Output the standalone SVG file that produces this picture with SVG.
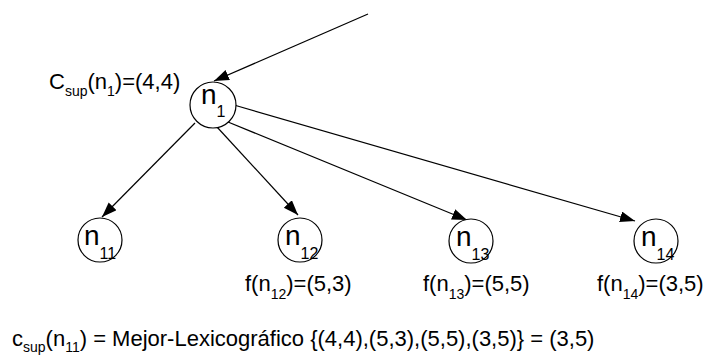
<svg xmlns="http://www.w3.org/2000/svg" width="707" height="356" viewBox="0 0 707 356">
  <defs>
    <marker id="arrow" markerUnits="userSpaceOnUse" markerWidth="16" markerHeight="12" refX="15" refY="5.5" orient="auto">
      <path d="M0,0 L15,5.5 L0,11 z" fill="#000"/>
    </marker>
    <style>
      text { font-family: "Liberation Sans", Arial, sans-serif; fill: #000; }
      .lbl { font-size: 22px; }
      .sub { font-size: 14px; }
      .nn { font-size: 28px; }
      .ns { font-size: 16px; }
      .node circle { fill: #fff; stroke: #000; stroke-width: 1.2; }
      .edge { stroke: #000; stroke-width: 1.2; fill: none; marker-end: url(#arrow); }
    </style>
  </defs>
  <rect width="707" height="356" fill="#fff"/>

  <!-- connectors -->
  <g id="edges">
    <line class="edge" x1="368" y1="14" x2="214" y2="81"/>
    <line class="edge" x1="195" y1="123" x2="102" y2="217"/>
    <line class="edge" x1="217" y1="127" x2="298" y2="215"/>
    <line class="edge" x1="228" y1="122" x2="467" y2="220"/>
    <line class="edge" x1="234" y1="105" x2="635" y2="221"/>
  </g>

  <!-- nodes -->
  <g id="n1" class="node">
    <circle cx="213" cy="105" r="23"/>
    <text class="nn" x="201" y="104">n<tspan class="ns" dy="13">1</tspan></text>
  </g>
  <g id="n11" class="node">
    <circle cx="100" cy="240" r="22"/>
    <text class="nn" x="84" y="245">n<tspan class="ns" dy="14">11</tspan></text>
  </g>
  <g id="n12" class="node">
    <circle cx="300" cy="240" r="22"/>
    <text class="nn" x="285" y="245">n<tspan class="ns" dy="14">12</tspan></text>
  </g>
  <g id="n13" class="node">
    <circle cx="471" cy="241" r="22"/>
    <text class="nn" x="456" y="246">n<tspan class="ns" dy="14">13</tspan></text>
  </g>
  <g id="n14" class="node">
    <circle cx="656" cy="241" r="22"/>
    <text class="nn" x="641" y="246">n<tspan class="ns" dy="14">14</tspan></text>
  </g>

  <!-- annotations -->
  <g id="labels">
    <text class="lbl" x="49" y="89">C<tspan class="sub" dy="7">sup</tspan><tspan dy="-7">(n</tspan><tspan class="sub" dy="7">1</tspan><tspan dy="-7">)=(4,4)</tspan></text>
    <text class="lbl" x="245" y="291">f(n<tspan class="sub" dy="8">12</tspan><tspan dy="-8">)=(5,3)</tspan></text>
    <text class="lbl" x="423" y="291">f(n<tspan class="sub" dy="8">13</tspan><tspan dy="-8">)=(5,5)</tspan></text>
    <text class="lbl" x="597" y="291">f(n<tspan class="sub" dy="8">14</tspan><tspan dy="-8">)=(3,5)</tspan></text>
    <text class="lbl" x="12" y="346">c<tspan class="sub" dy="6">sup</tspan><tspan dy="-6">(n</tspan><tspan class="sub" dy="6">11</tspan><tspan dy="-6">) = Mejor-Lexicográfico {(4,4),(5,3),(5,5),(3,5)} = (3,5)</tspan></text>
  </g>
</svg>
